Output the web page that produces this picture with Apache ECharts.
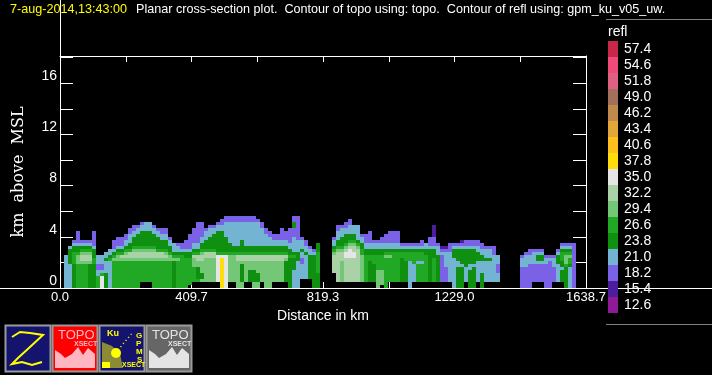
<!DOCTYPE html>
<html>
<head>
<meta charset="utf-8">
<title>Planar cross-section</title>
<script src="https://cdn.jsdelivr.net/npm/echarts@6/dist/echarts.min.js"></script>
<style>
html, body { margin: 0; padding: 0; background: #000; }
#chart { width: 712px; height: 375px; }
</style>
</head>
<body>
<div id="chart"></div>
<script>
// colour scale, low to high
const reflLevels = [12.6, 15.4, 18.2, 21.0, 23.8, 26.6, 29.4, 32.2, 35.0, 37.8, 40.6, 43.4, 46.2, 49.0, 51.8, 54.6, 57.4]
const reflColors = ['#8f1a98', '#4c1d9c', '#7b61e6', '#73b4d3', '#109010', '#21a824', '#74c776', '#a9d3a6', '#e5e5e5',
  '#fede0a', '#fdc01c', '#e0a63a', '#c08a4c', '#a3705c', '#df6082', '#f04a7a', '#c9274a']
const levelCodes = { d: 15.4, p: 18.2, b: 21.0, D: 23.8, g: 26.6, l: 29.4, w: 32.2, W: 35.0, y: 37.8, o: 40.6 }

const distTicks = [0, 204.84, 409.7, 614.5, 819.3, 1024.2, 1229.0, 1433.9, 1638.7]
const colStepKm = 12.46
const rowStepKm = 0.234

// one string per distance column, runs of (code, rows) from the ground up, '.' = no echo
const reflColumns = [
  'b11', 'b8 D5 b1', 'D8 g4 D2 b1 p1', 'g8 l3 g1 D2 b1 p4', 'g8 l1 w2 l1 g1 D1 b1 p1', 'g8 l1 w2 l1 g1 D1 b1 p1',
  'D8 l1 w2 l1 g1 D1 b1 p1', 'D8 g2 D3 b1 p5', 'g4 b2 p2 b3', 'W4 g1 b1 p2 b3', 'D5 b4 D1 b2', 'b9 g1 D1 b2',
  'g9 l1 g1 D1 b1 p3', 'g9 l2 g1 D1 b1 p3', 'g9 l1 w1 g1 D1 b1 p3', 'g9 l1 w1 l1 g1 D1 b2 p2',
  'g9 l1 w2 g1 D2 b3 p2', 'g9 l1 w2 l1 g1 D3 b2 p2', 'g9 l1 w2 l1 g1 D4 b2 p1', '.2 g7 l1 w2 l1 g1 D5 b2 p1',
  '.2 g7 l1 w2 l1 g1 D5 b3', '.2 g7 l1 w2 l1 g1 D5 b3', 'g9 l1 w2 l1 g1 D4 b2 p1', 'g9 l1 w2 g1 D4 b2 p1',
  'g9 l1 w2 g1 D3 b2 p2', 'g9 l1 w1 l1 g1 D3 b2 p2', 'g9 l2 g1 D2 b2 p1', 'D9 l1 g1 D1 b3', 'g9 l1 g1 D1 b2 p1',
  'g11 D1 b1 p2', 'g10 D2 b1 p3', '.1 g9 D2 b1 p5',
  '.2 g5 l3 w1 g1 D1 b2 p5', '.2 g1 D4 l2 w2 g1 D1 b2 p7', '.2 l1 D2 l4 w2 l1 g1 D2 b2 p5', '.2 l8 w2 g1 D3 b3 p1',
  '.2 l8 w2 g1 D4 b3 p1', '.2 l8 w2 g1 D5 b2 p1', '.2 W9 g1 D7 b2 p1', 'y10 W1 g1 D7 b2 p2', 'W11 g1 D5 b5 p2',
  '.2 l9 g1 D3 b7 p2', '.2 l9 g1 D2 b8 p2', 'l9 w2 g1 D2 b8 p2', 'l2 D6 l1 w2 g1 D4 b6 p2', '.2 l7 w2 g1 D2 b8 p2',
  '.2 D4 l3 w2 g1 D2 b8 p2', 'l2 D4 l3 w2 g1 D2 b8 p2', 'l2 D3 l4 w2 g1 D2 b8 p1', '.2 l7 w2 g1 D2 b6 p2',
  'l9 w2 g1 D2 b4 p2', 'l9 w2 g1 D2 b3 p2', '.2 l7 w2 g1 D2 b2 p2', '.2 l7 w2 g1 D2 b2 p2', '.2 l7 w2 g1 D2 b2 p4',
  '.2 D7 l1 w1 g1 D2 b2 p3', 'D10 g1 D2 b2 p5', 'b6 D4 g1 D1 b5 p3 D2 p2', 'b9 D3 b4 p8', '.3 b5 p2 b2 D1 b3 p1',
  '.3 b8 D1 b2 p2', '.3 D8 b2 p1', 'D11 b1 p1', 'D5 g7 D3',
  '', '', '',
  '.5 w6 l1 g1 D1 b2 p1', '.2 w10 l1 g1 D2 b3 p2', '.2 l7 w3 l1 g1 D3 b3 p1', '.2 w8 W2 w1 l1 g1 D3 b2 p2',
  '.2 w8 W3 w1 l1 g1 D2 b3 p2', '.2 w8 W2 w2 l1 g1 D2 b3', '.2 w11 l1 g1 D1 b5', '.2 l9 g2 D2 b2 p1',
  '.2 g9 D2 b2 p3', '.2 D7 g2 D2 b2 p4', '.2 D6 g3 D2 b2 p1', 'l6 g5 D2 b2 p1', '.1 l5 g5 D2 b2 p2',
  'g10 l1 g1 D1 b2 p3', '.2 g8 l1 g1 D1 b2 p4', '.2 g10 D1 b2 p4', '.2 g10 D1 b2 p4', '.2 D8 g2 D1 b1 p1',
  '.2 D7 g3 D1 b1 p1', 'b9 g3 D1 b1 p1', '.2 b6 g4 D1 b1 p1', '.2 g6 b1 g3 D1 b1 p1', '.2 g6 b1 g3 D1 b1 p2',
  '.2 g9 D2 b2', '.2 D11 b1 p3', '.2 g8 D3 b1 p3 d4', '.2 D9 b3 p1', '.2 p9 b1 p1 d1', '.2 p5 b5 p1 d1',
  '.2 b10 p3', 'b10 D3 b1 p1', 'D7 b2 D4 b1 p1', 'D7 b1 D5 b1 p1 d1', '.2 b5 D6 b1 p2', 'D6 b2 D5 b1 p2',
  'D7 b1 D5 b1 p2', '.2 b7 D3 b2 p2', 'D5 b4 D2 b2 p2', '.2 b7 D1 b3 p1', '.2 b7 D1 b3 p1', '.2 b9 p3',
  '.2 b3 p3 b3', '', '', '', '', '',
  'p7 b3 p1', 'p7 b4 p1', 'p8 b3 p2', '.2 p6 b4 p1', '.2 p6 b1 D2 b1 p1', '.2 p6 b1 D2 b1 p1', 'p8 b2 p1', 'p9 b1 p1',
  '.2 p5 b3 p1', '.2 b6 D3 b1 p1', '.2 D4 b1 D2 g3 D1 b1 p1', 'D7 g1 l3 g1 D1 b1 p1', 'b7 D1 g2 l1 g1 D1 b1 p1', 'p15'
]

// expand the runs to [x0, y0, refl, x1, y1] in km
const cells = []
reflColumns.forEach((col, c) => {
  let k = 0
  col.split(' ').filter(Boolean).forEach(run => {
    const code = run[0]
    const n = parseInt(run.slice(1))
    if (code !== '.') {
      for (let i = 0; i < n; i++) {
        const x0 = colStepKm * (c + 1)
        cells.push([x0, (k + i) * rowStepKm, levelCodes[code], x0 + colStepKm, (k + i + 1) * rowStepKm])
      }
    }
    k += n
  })
})

const pieces = reflLevels.map((v, i) => ({
  gte: v,
  lt: i < reflLevels.length - 1 ? reflLevels[i + 1] : 60,
  label: v.toFixed(1),
  color: reflColors[i]
}))

function renderCell (params, api) {
  const a = api.coord([api.value(0), api.value(1)])
  const b = api.coord([api.value(3), api.value(4)])
  const x = Math.round(a[0])
  const y = Math.round(b[1])
  return {
    type: 'rect',
    shape: { x: x, y: y, width: Math.round(b[0]) - x, height: Math.round(a[1]) - y },
    style: { fill: api.visual('color') }
  }
}

// small helpers for the button icons and frame lines
function line (x1, y1, x2, y2, color) {
  return { type: 'line', silent: true, shape: { x1: x1, y1: y1, x2: x2, y2: y2 }, style: { stroke: color || '#fff', lineWidth: 1 } }
}
function box (x, fill) {
  return { type: 'rect', silent: true, shape: { x: x + 0.5, y: 325.5, width: 45, height: 46 }, style: { fill: fill, stroke: '#9a9a9a', lineWidth: 2 } }
}
function label (x, y, text, color, size, weight) {
  return { type: 'text', silent: true, x: x, y: y, style: { text: text, fill: color, font: (weight || 'normal') + ' ' + size + 'px "Liberation Sans"' } }
}
function topoIcon (x, fill, fg) {
  return [
    box(x, fill),
    label(x + 6, 329, 'TOPO', fg, 13),
    label(x + 22, 341, 'XSECT', fg, 7, 'bold'),
    { type: 'polygon', silent: true, shape: { points: [[x + 3, 368], [x + 3, 350], [x + 9, 354], [x + 13, 358], [x + 20, 354], [x + 26, 347], [x + 31, 355], [x + 36, 348], [x + 43, 354], [x + 43, 368]] }, style: { fill: fg } }
  ]
}

const graphics = [
  line(0, 288.5, 608, 288.5),
  line(618, 288.5, 712, 288.5),
  line(60.5, 0, 60.5, 56),
  line(606, 19.5, 712, 19.5, '#808080'),
  line(606, 324.5, 712, 324.5, '#808080'),
  label(10, 3, '7-aug-2014,13:43:00', '#ffff00', 12.6),
  label(136, 3, 'Planar cross-section plot.  Contour of topo using: topo.  Contour of refl using: gpm_ku_v05_uw.', '#fff', 12.6),
  label(608, 25, 'refl', '#fff', 14),
  box(5, '#14146e'),
  { type: 'polyline', silent: true, shape: { points: [[12, 337], [20, 332], [30, 333], [43, 335], [30, 347], [18, 358], [12, 364], [22, 362], [32, 365], [42, 362]] }, style: { stroke: '#ffff00', fill: 'none', lineWidth: 2 } }
].concat(topoIcon(52, '#ff0000', '#ffb6c1'), [
  box(99, '#14146e'),
  label(107, 329, 'Ku', '#ffff00', 9, 'bold'),
  { type: 'polygon', silent: true, shape: { points: [[102, 342], [112, 346], [120, 354], [123, 368], [102, 368]] }, style: { fill: '#ffff00', opacity: 0.5 } },
  { type: 'circle', silent: true, shape: { cx: 116, cy: 353, r: 5 }, style: { fill: '#ffff00' } },
  { type: 'rect', silent: true, shape: { x: 102, y: 362, width: 8, height: 6 }, style: { fill: '#ffff00' } },
  { type: 'line', silent: true, shape: { x1: 118, y1: 350, x2: 133, y2: 332 }, style: { stroke: '#ffff00', lineWidth: 1.5, lineDash: [1, 3] } },
  label(136, 332, 'G', '#ffff00', 8, 'bold'),
  label(136, 340, 'P', '#ffff00', 8, 'bold'),
  label(136, 348, 'M', '#ffff00', 8, 'bold'),
  label(137, 356, 'S', '#ffff00', 8, 'bold'),
  label(122, 362, 'XSECT', '#ffff00', 7, 'bold')
], topoIcon(146, '#666666', '#e4e4e4'))

const chart = echarts.init(document.getElementById('chart'))
chart.setOption({
  animation: false,
  backgroundColor: '#000',
  grid: { left: 60, top: 56, width: 526, height: 232 },
  xAxis: [
    {
      type: 'value',
      min: 0,
      max: distTicks[8],
      interval: distTicks[8] / 8,
      name: 'Distance in km',
      nameLocation: 'middle',
      nameGap: 19,
      nameTextStyle: { color: '#fff', fontSize: 14, fontFamily: 'Liberation Sans' },
      axisLine: { onZero: false, lineStyle: { color: '#fff' } },
      axisTick: { inside: true, length: 6, lineStyle: { color: '#fff' } },
      axisLabel: {
        color: '#fff',
        fontSize: 13,
        fontFamily: 'Liberation Sans',
        margin: 3,
        hideOverlap: false,
        formatter: (v) => {
          const i = Math.round(v / (distTicks[8] / 8))
          return i % 2 === 0 ? distTicks[i].toFixed(1) : ''
        }
      },
      splitLine: { show: false }
    },
    {
      type: 'value',
      position: 'top',
      min: 0,
      max: distTicks[8],
      interval: distTicks[8] / 8,
      axisLine: { onZero: false, lineStyle: { color: '#fff' } },
      axisTick: { inside: true, length: 6, lineStyle: { color: '#fff' } },
      axisLabel: { show: false },
      splitLine: { show: false }
    }
  ],
  yAxis: [
    {
      type: 'value',
      min: 0,
      max: 18.125,
      interval: 2,
      name: 'km  above  MSL',
      nameLocation: 'middle',
      nameGap: 33,
      nameRotate: 90,
      nameTextStyle: { color: '#fff', fontSize: 16, fontFamily: 'DejaVu Serif' },
      axisLine: { onZero: false, lineStyle: { color: '#fff' } },
      axisTick: { inside: true, length: 13, lineStyle: { color: '#fff' } },
      axisLabel: {
        color: '#fff',
        fontSize: 14,
        fontFamily: 'Liberation Sans',
        margin: 3,
        verticalAlign: 'bottom',
        showMaxLabel: false,
        formatter: (v) => (v % 4 === 0 ? String(v) : '')
      },
      splitLine: { show: false }
    },
    {
      type: 'value',
      position: 'right',
      min: 0,
      max: 18.125,
      interval: 2,
      axisLine: { onZero: false, lineStyle: { color: '#fff' } },
      axisTick: { inside: true, length: 13, lineStyle: { color: '#fff' } },
      axisLabel: { show: false },
      splitLine: { show: false }
    }
  ],
  visualMap: {
    type: 'piecewise',
    seriesIndex: 0,
    dimension: 2,
    pieces: pieces,
    orient: 'vertical',
    left: 608,
    top: 41,
    padding: 0,
    itemWidth: 10,
    itemHeight: 16,
    itemGap: 0,
    itemSymbol: 'rect',
    align: 'left',
    textGap: 6,
    hoverLink: false,
    selectedMode: false,
    textStyle: { color: '#fff', fontSize: 14, fontFamily: 'Liberation Sans' }
  },
  graphic: graphics,
  series: [{
    type: 'custom',
    renderItem: renderCell,
    coordinateSystem: 'cartesian2d',
    encode: { x: [0, 3], y: [1, 4] },
    silent: true,
    data: cells
  }]
})
</script>
</body>
</html>
